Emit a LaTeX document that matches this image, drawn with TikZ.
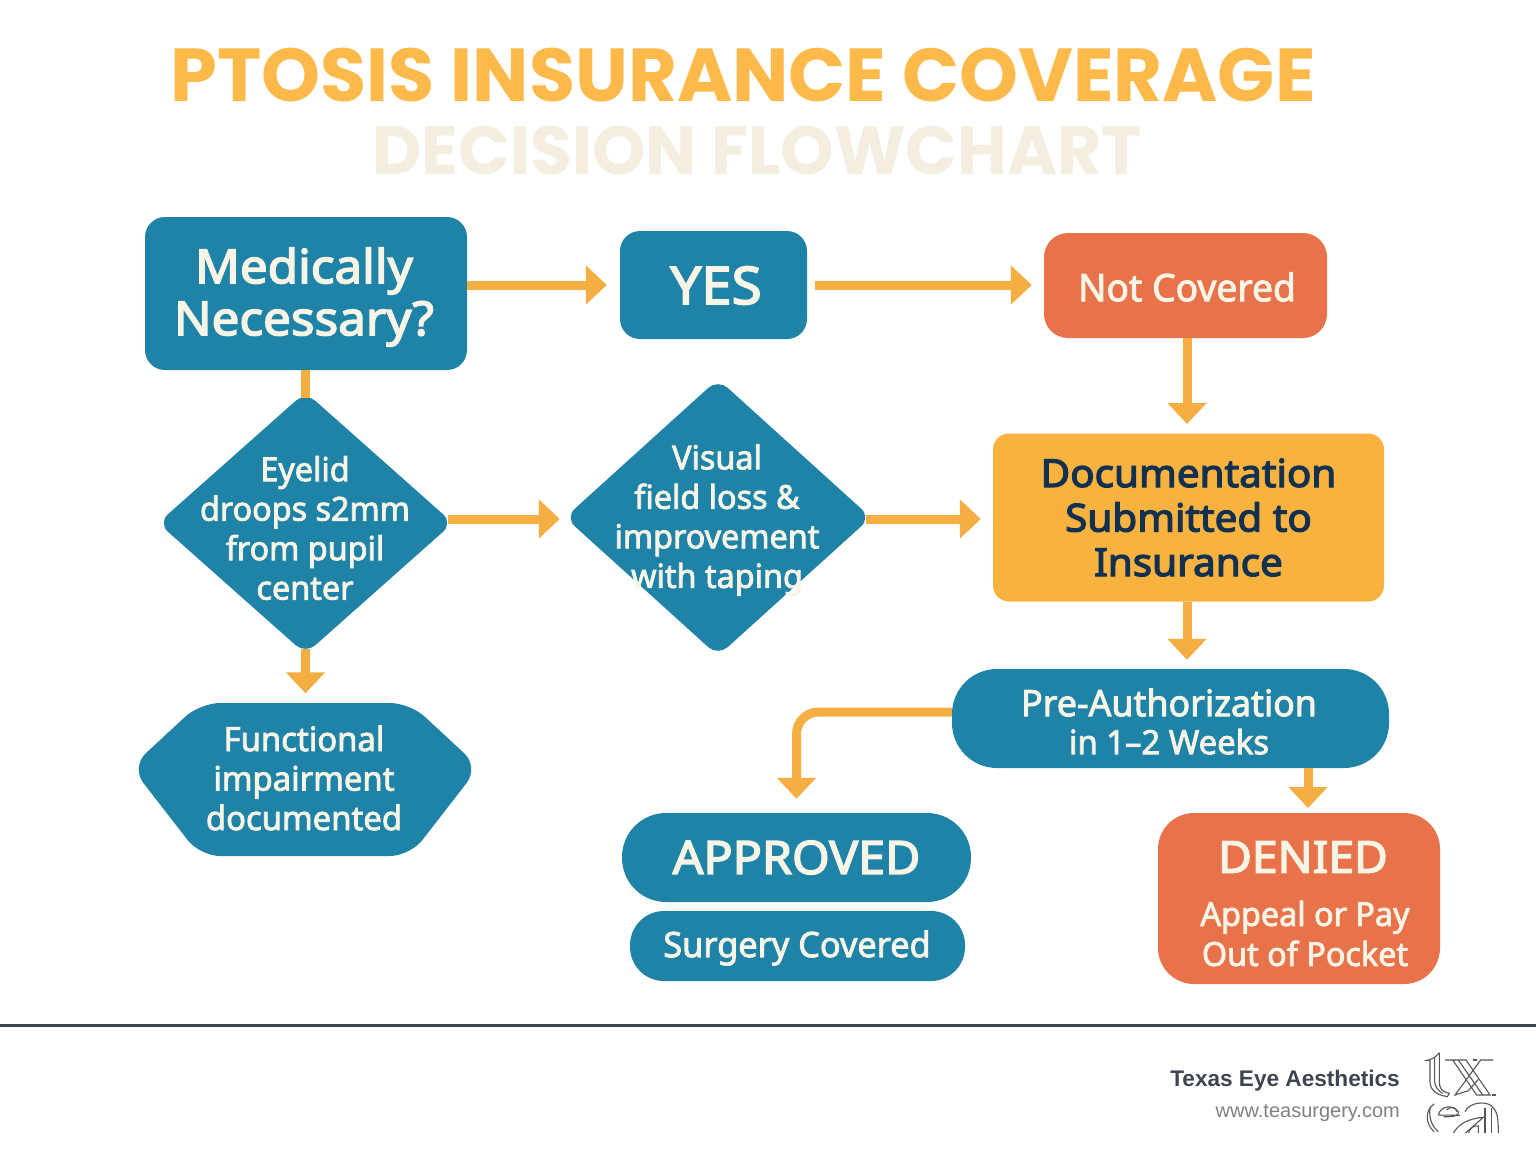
\documentclass[tikz,border=0pt]{standalone}
\usepackage{fontspec}
\usetikzlibrary{arrows.meta,shapes.geometric}
\setmainfont{Noto Sans}[FakeBold=2.4,FakeStretch=0.98]
\newfontfamily\headfont{Noto Sans}[FakeBold=3.2,FakeStretch=1.05]
\newfontfamily\titlefont{Poppins}
\newfontfamily\footfont{Liberation Sans}
\definecolor{tealbox}{HTML}{1F83A8}
\definecolor{flow}{HTML}{F5AE42}
\definecolor{coral}{HTML}{E8734A}
\definecolor{gold}{HTML}{F7B23F}
\definecolor{navy}{HTML}{12304F}
\definecolor{cream}{HTML}{F8F4E6}
\definecolor{titleor}{HTML}{FDB94A}
\definecolor{subt}{HTML}{F3EEDF}
\definecolor{rulec}{HTML}{3E4450}
\definecolor{logoc}{HTML}{55555C}
\newcommand{\fs}[2]{\fontsize{#1}{#2}\selectfont}
\newcommand{\fb}[2]{\fontsize{#1}{#2}\selectfont\bfseries}
\tikzset{
  box/.style={draw=none,fill=tealbox,align=center,inner sep=0pt,rectangle},
  lab/.style={text=cream,align=center,inner sep=0pt},
  dia/.style={diamond,draw=none,fill=tealbox,inner sep=0pt,rounded corners=13pt},
  dtext/.style={lab,font=\fs{33}{39.5}},
  flowline/.style={draw=flow,line width=9pt},
  flowarrow/.style={flowline,-{Triangle[length=21pt,width=38pt]}}
}
\begin{document}
\begin{tikzpicture}[x=1pt,y=-1pt]
\useasboundingbox (0,0) rectangle (1536,1154);
\fill[white] (0,0) rectangle (1536,1154);
% title
\node[text=titleor,inner sep=0pt,font=\titlefont\fb{75}{80}] (title) at (743,75) {PTOSIS INSURANCE COVERAGE};
\node[text=subt,inner sep=0pt,font=\titlefont\fb{68}{70}] (subtitle) at (757,151) {DECISION FLOWCHART};
\coordinate (dentop) at (1308,813);
\coordinate (docin) at (1187,433);
% boxes
\node[box,rounded corners=20pt,minimum width=322pt,minimum height=153pt] (med) at (306,293.5) {};
\node[lab,font=\headfont\fs{47}{52}] (medt) at (304,297) {Medically\\Necessary?};
\node[box,rounded corners=20pt,minimum width=187pt,minimum height=108pt] (yes) at (713.5,285) {};
\node[lab,font=\headfont\fs{52}{52}] (yest) at (716,285.5) {YES};
\node[box,fill=coral,rounded corners=24pt,minimum width=283pt,minimum height=105pt] (notc) at (1185.5,285.5) {};
\node[lab,font=\fs{38}{40}] (notct) at (1187,287) {Not Covered};
\node[dia,minimum width=295pt,minimum height=262pt] (eye) at (305.5,523) {};
\node[dtext] (eyet) at (305,528) {Eyelid\\droops s2mm\\from pupil\\center};
\node[dia,minimum width=306pt,minimum height=277pt] (vis) at (718,517.5) {};
\node[dtext] (vist) at (717,520) {Visual\\field loss \&\\improvement\\with taping};
\node[box,fill=gold,text=navy,rounded corners=16pt,minimum width=391pt,minimum height=168pt,font=\headfont\fs{38.5}{44.5}] (doc) at (1188.5,517.5) {Documentation\\Submitted to\\Insurance};
\fill[tealbox,rounded corners=20pt] (131,767) -- (200,703) -- (410,703) -- (479,767) -- (410,856) -- (200,856) -- cycle;
\node[box,fill=none,text=cream,minimum width=332pt,minimum height=153pt,font=\fs{33.5}{39.5}] (hex) at (304,778) {Functional\\impairment\\documented};
\node[box,rounded corners=45pt,minimum width=437pt,minimum height=99pt] (pre) at (1170.5,718.5) {};
\node[lab,font=\fs{36.5}{38}] (pret) at (1169,721.5) {Pre-Authorization\\{\fontsize{33.5}{38}\selectfont in 1--2 Weeks}};
\node[box,rounded corners=44pt,minimum width=349pt,minimum height=89pt,text=cream,font=\headfont\fs{46}{50}] (app) at (796.5,857.5) {APPROVED};
\node[box,rounded corners=34pt,minimum width=335pt,minimum height=70pt] (sur) at (797.5,946) {};
\node[lab,font=\fs{35}{38}] (surt) at (797,948) {Surgery Covered};
\node[box,fill=coral,rounded corners=36pt,minimum width=282pt,minimum height=171pt] (den) at (1299,898.5) {};
\node[lab,font=\headfont\fs{44}{50}] (dent) at (1303,857) {DENIED};
\node[lab,font=\fs{33}{40}] (dens) at (1305,933.5) {Appeal or Pay\\Out of Pocket};
% connectors
\draw[flowline,shorten >=-6pt] (med.south -| eye.north) -- (eye.north);
\draw[flowarrow,shorten >=13pt] (med.east |- yes.west) -- (yes.west);
\draw[flowarrow,shorten <=8pt,shorten >=12pt] (yes.east) -- (notc.west |- yes.east);
\draw[flowarrow,shorten >=9pt] (notc.south -| docin) -- (docin);
\draw[flowarrow,shorten <=-5pt,shorten >=5pt] (eye.east |- 0,519) -- (vis.west |- 0,519);
\draw[flowarrow,shorten <=-5pt,shorten >=12pt] (vis.east |- 0,519) -- (doc.west |- 0,519);
\draw[flowarrow,shorten >=9pt] (doc.south -| docin) -- (docin |- pre.north);
\draw[flowarrow,shorten <=-5pt,shorten >=8pt] (eye.south) -- (eye.south |- hex.north);
\draw[flowarrow,shorten >=14pt,rounded corners=22pt] (pre.west |- 0,712) -- (app.north |- 0,712) -- (app.north);
\draw[flowarrow,shorten >=5pt] (pre.south -| dentop) -- (dentop);
% footer
\draw[rulec,line width=3pt] (0,1025) -- (1536,1025);
\node[anchor=base east,inner sep=0pt,text=rulec,font=\footfont\fb{22.6}{28}] (brand) at (1400,1086) {Texas Eye Aesthetics};
\node[anchor=base east,inner sep=0pt,text=gray,font=\footfont\fs{20}{24}] (url) at (1400,1117) {www.teasurgery.com};
\begin{scope}
\clip (1410,1040) rectangle (1510,1132);
\begin{scope}[shift={(1410,1040)},x=.3333pt,y=-.3333pt,draw=logoc,line width=1.1pt]
\draw (88,38) .. controls (75,55) and (60,60) .. (44,62) -- (60,60) -- (60,125) .. controls (60,150) and (80,165) .. (112,170) -- (118,160) .. controls (95,155) and (88,145) .. (88,125) -- (88,38);
\draw (74,52) -- (74,125) .. controls (74,140) and (85,152) .. (98,160);
\draw (105,60) -- (168,60) -- (240,165) -- (200,165) -- (128,60);
\draw (145,60) -- (218,165);
\draw (250,60) -- (212,60) -- (135,165) -- (175,152) -- (205,118);
\draw (245,165) -- (258,165);
\draw (190,60) -- (200,60);
\draw (72,192) .. controls (45,210) and (45,250) .. (72,275);
\draw (62,200) .. controls (55,220) and (60,255) .. (85,275);
\draw (85,225) .. controls (90,200) and (125,190) .. (145,215) .. controls (150,225) and (130,232) .. (100,230);
\draw (110,210) .. controls (125,195) and (140,205) .. (140,215);
\draw (85,225) -- (150,226);
\draw (165,215) .. controls (180,185) and (225,185) .. (240,195) .. controls (262,210) and (265,230) .. (265,280);
\draw (225,205) -- (225,280);
\draw (245,205) -- (245,280);
\draw (130,280) .. controls (145,250) and (180,235) .. (220,232) -- (165,280);
\draw (175,280) .. controls (180,262) and (195,255) .. (205,258) -- (205,280);
\end{scope}
\end{scope}
\end{tikzpicture}
\end{document}
